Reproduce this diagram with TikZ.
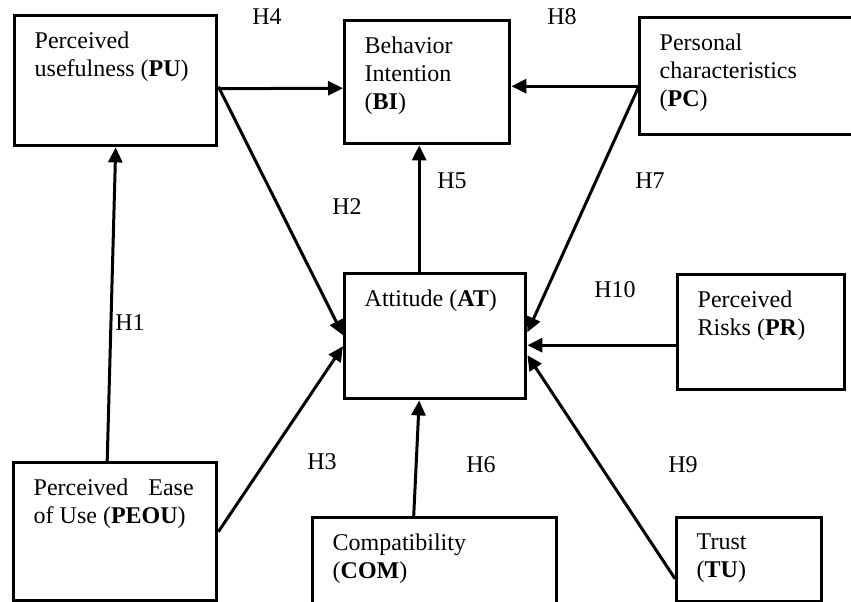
\documentclass[tikz,border=0pt]{standalone}
\usepackage{fontspec}
\setmainfont{Liberation Serif}
\usetikzlibrary{arrows.meta}
\newcommand{\boxtext}[3]{\parbox[t][#2][t]{#1}{\vspace*{8pt}\raggedright #3}}
\tikzset{
    construct/.style={draw, line width=1.7pt, anchor=north west, inner xsep=10pt, inner ysep=0pt},
    hyp/.style={-{Triangle[length=7.5pt, width=7pt]}, line width=1.5pt},
    hlabel/.style={inner sep=0pt}
}
\begin{document}
\begin{tikzpicture}[x=0.5pt, y=-0.5pt, font=\fontsize{12}{14}\selectfont]
            \useasboundingbox (0,0) rectangle (851,601);
            \clip (0,0) rectangle (851,601);

            \node[construct] (PU) at (13,14) {\boxtext{81pt}{65pt}{Perceived\\usefulness (\textbf{PU})}};
            \node[construct] (BI) at (343,19) {\boxtext{62.5pt}{61.5pt}{Behavior\\Intention\\(\textbf{BI})}};
            \node[construct] (PC) at (638,16) {\boxtext{96pt}{58.5pt}{Personal\\characteristics\\(\textbf{PC})}};
            \node[construct] (AT) at (343,272) {\boxtext{70.5pt}{62.5pt}{Attitude (\textbf{AT})}};
            \node[construct] (PR) at (676,273) {\boxtext{63.5pt}{57.5pt}{Perceived\\Risks (\textbf{PR})}};
            \node[construct] (PEOU) at (12,461) {\boxtext{81.5pt}{69pt}{\makebox[80pt][s]{Perceived Ease}\\of Use (\textbf{PEOU})}};
            \node[construct] (COM) at (311,516) {\boxtext{102pt}{92pt}{Compatibility\\(\textbf{COM})}};
            \node[construct] (TU) at (675,516) {\boxtext{52.5pt}{42pt}{Trust\\(\textbf{TU})}};

            \draw[hyp] ([xshift=-4pt]PEOU.north) -- (PU.south);
            \draw[hyp] ([yshift=-4pt]PU.east) -- ([yshift=-3pt]BI.west);
            \draw[hyp] ([yshift=-3pt]PU.east) -- ([yshift=0.5pt]AT.west);
            \draw[hyp] (PEOU.east) -- ([yshift=-5pt]AT.west);
            \draw[hyp] ([xshift=-8pt]AT.north) -- ([xshift=-4pt]BI.south);
            \draw[hyp] ([xshift=-10.5pt]COM.north) -- ([xshift=-8pt]AT.south);
            \draw[hyp] ([yshift=-5pt]PC.west) -- ([yshift=-2pt]BI.east);
            \draw[hyp] ([yshift=-6pt]PC.west) -- ([yshift=2pt]AT.east);
            \draw[hyp] ([yshift=-6.5pt]PR.west) -- ([yshift=-4.5pt]AT.east);
            \draw[hyp] ([yshift=-9.5pt]TU.west) -- ([yshift=-9.5pt]AT.east);

            \node[hlabel] (h1) at (130,323) {H1};
            \node[hlabel] (h2) at (347,207) {H2};
            \node[hlabel] (h3) at (322,462) {H3};
            \node[hlabel] (h4) at (267,17) {H4};
            \node[hlabel] (h5) at (452,181) {H5};
            \node[hlabel] (h6) at (481,465) {H6};
            \node[hlabel] (h7) at (650,181) {H7};
            \node[hlabel] (h8) at (562,17) {H8};
            \node[hlabel] (h9) at (683,465) {H9};
            \node[hlabel] (h10) at (615,290) {H10};
\end{tikzpicture}
\end{document}
